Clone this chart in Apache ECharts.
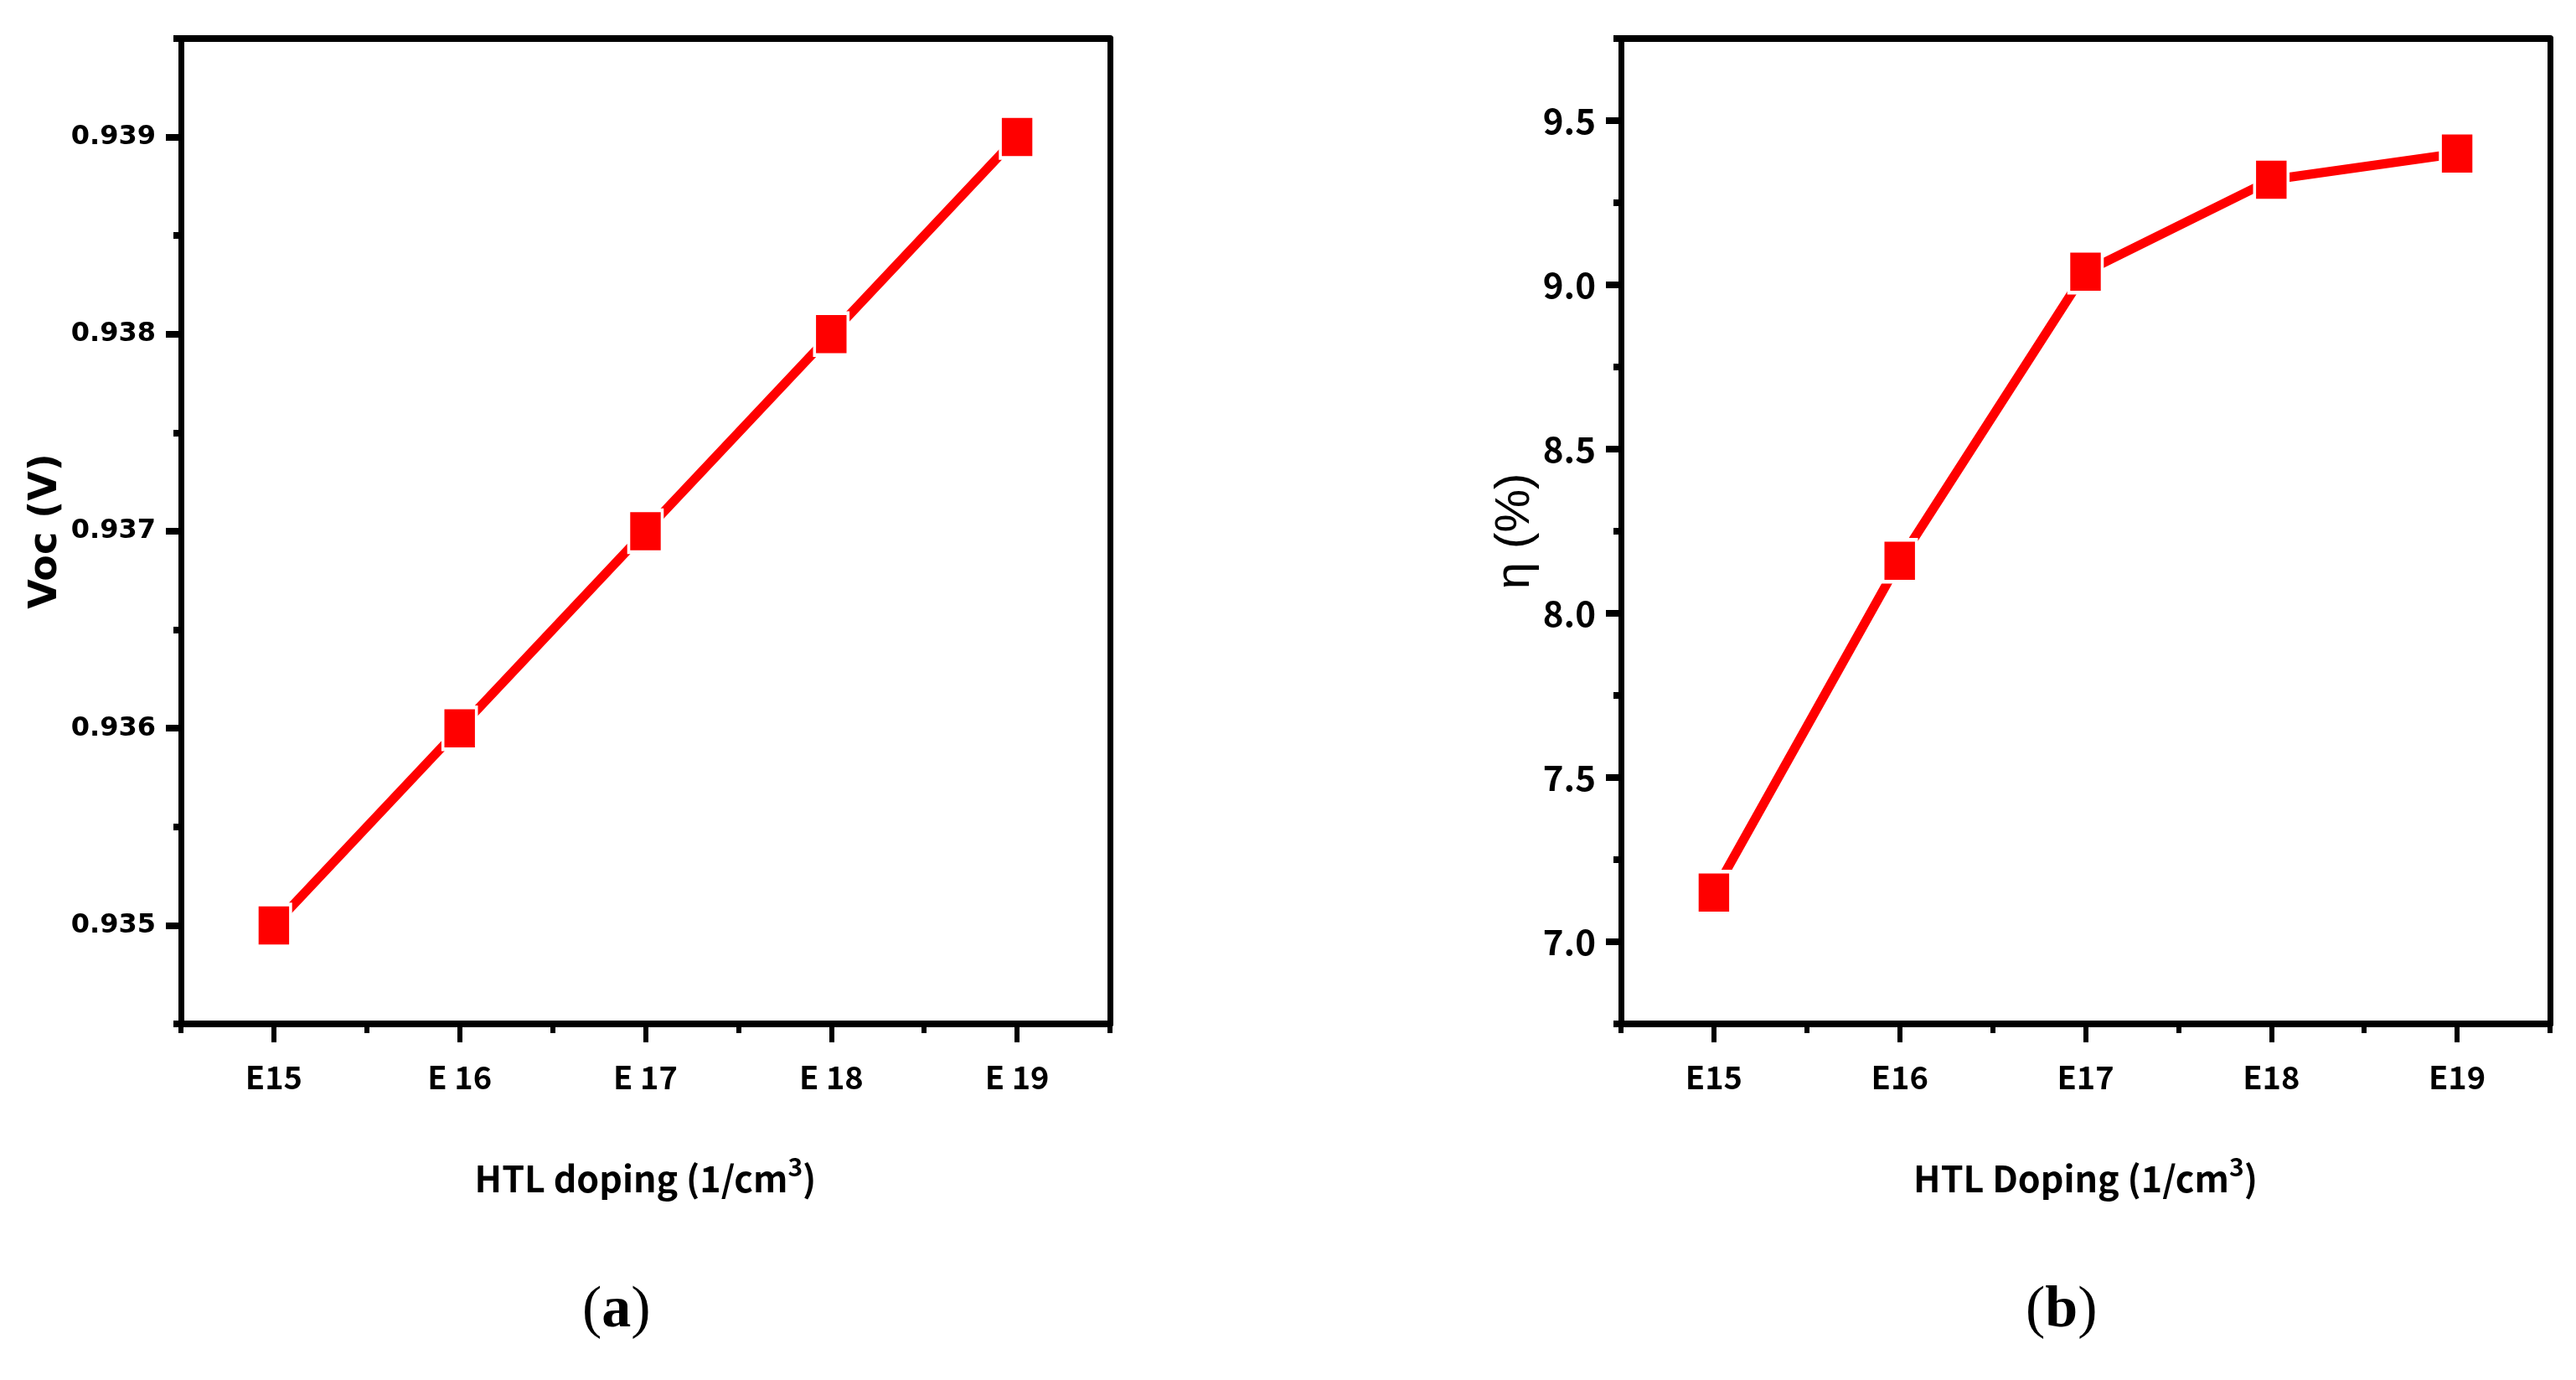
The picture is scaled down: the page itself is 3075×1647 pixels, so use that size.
<!DOCTYPE html>
<html>
<head>
<meta charset="utf-8">
<script src="https://cdn.jsdelivr.net/npm/echarts@6/dist/echarts.min.js"></script>
<style>
  html, body { margin: 0; padding: 0; background: #fff; }
  #chart { width: 3075px; height: 1647px; }
</style>
</head>
<body>
<div id="chart"></div>
<script>
// panel (a): Voc vs HTL doping
const dopingA = ['E15', 'E 16', 'E 17', 'E 18', 'E 19']
const vocValues = [0.935, 0.936, 0.937, 0.938, 0.939]
const vocTicks = [0.935, 0.936, 0.937, 0.938, 0.939]
const vocMinorTicks = [0.9345, 0.9355, 0.9365, 0.9375, 0.9385, 0.9395]

// panel (b): efficiency vs HTL doping
const dopingB = ['E15', 'E16', 'E17', 'E18', 'E19']
const etaValues = [7.15, 8.16, 9.04, 9.32, 9.40]
const etaTicks = [7.0, 7.5, 8.0, 8.5, 9.0, 9.5]
const etaMinorTicks = [6.75, 7.25, 7.75, 8.25, 8.75, 9.25, 9.75]

// narrow-ish bold face for the Calibri-looking texts
const NARROW = "'Noto Sans CJK SC', 'Liberation Sans', sans-serif"
const RED = '#ff0000'

function xAxes(gridIndex, cats, name) {
  return [
    {
      gridIndex,
      type: 'category',
      data: cats,
      position: 'bottom',
      boundaryGap: true,
      name,
      nameLocation: 'middle',
      nameGap: 156,
      nameTextStyle: {
        color: '#000',
        fontFamily: NARROW,
        fontWeight: 'bold',
        fontSize: 43,
        rich: {
          m: { fontFamily: NARROW, fontWeight: 'bold', fontSize: 43, color: '#000', verticalAlign: 'bottom' },
          sup: {
            fontFamily: NARROW, fontWeight: 'bold', fontSize: 30, color: '#000',
            verticalAlign: 'bottom', padding: [0, 0, 20, 0],
          },
        },
      },
      axisLine: { show: true, onZero: false, lineStyle: { color: '#000', width: 8 } },
      axisTick: { show: true, alignWithLabel: true, length: 22, lineStyle: { color: '#000', width: 6 } },
      axisLabel: {
        color: '#000',
        fontFamily: NARROW,
        fontWeight: 'bold',
        fontSize: 38,
        margin: 45,
      },
      splitLine: { show: false },
    },
    {
      gridIndex,
      type: 'category',
      data: cats,
      position: 'bottom',
      boundaryGap: true,
      axisLine: { show: false, onZero: false },
      axisTick: { show: true, length: 11, lineStyle: { color: '#000', width: 6 } },
      axisLabel: { show: false },
      splitLine: { show: false },
    },
    {
      gridIndex,
      type: 'category',
      data: cats,
      position: 'top',
      axisLine: { show: true, onZero: false, lineStyle: { color: '#000', width: 8 } },
      axisTick: { show: false },
      axisLabel: { show: false },
      splitLine: { show: false },
    },
  ]
}

function yAxes(gridIndex, min, max, ticks, minorTicks, digits, labelFont, labelSize, name, nameStyle, nameGap) {
  return [
    {
      gridIndex,
      type: 'value',
      position: 'left',
      min,
      max,
      name,
      nameLocation: 'middle',
      nameGap,
      nameTextStyle: nameStyle,
      axisLine: { show: true, lineStyle: { color: '#000', width: 7 } },
      axisTick: { show: true, customValues: ticks, length: 18, lineStyle: { color: '#000', width: 8 } },
      axisLabel: {
        customValues: ticks,
        formatter: (v) => v.toFixed(digits),
        color: '#000',
        fontFamily: labelFont,
        fontWeight: 'bold',
        fontSize: labelSize,
        margin: 30,
      },
      splitLine: { show: false },
    },
    {
      gridIndex,
      type: 'value',
      position: 'left',
      min,
      max,
      axisLine: { show: false },
      axisTick: { show: true, customValues: minorTicks, length: 9, lineStyle: { color: '#000', width: 8 } },
      axisLabel: { show: false },
      splitLine: { show: false },
    },
    {
      gridIndex,
      type: 'value',
      position: 'right',
      min,
      max,
      axisLine: { show: true, lineStyle: { color: '#000', width: 7 } },
      axisTick: { show: false },
      axisLabel: { show: false },
      splitLine: { show: false },
    },
  ]
}

function lineSeries(axisIndex, values) {
  return {
    type: 'line',
    xAxisIndex: axisIndex,
    yAxisIndex: axisIndex,
    data: values,
    symbol: 'rect',
    symbolSize: [40, 50],
    lineStyle: { color: RED, width: 11, cap: 'round' },
    itemStyle: { color: RED, borderColor: '#fff', borderWidth: 4 },
    z: 3,
  }
}

const chart = echarts.init(document.getElementById('chart'))

chart.setOption({
  backgroundColor: '#fff',
  animation: false,
  grid: [
    { left: 216, top: 46, width: 1109, height: 1176, outerBoundsMode: 'none' },
    { left: 1935, top: 46, width: 1109, height: 1176, outerBoundsMode: 'none' },
  ],
  xAxis: [
    ...xAxes(0, dopingA, '{m|HTL doping (1/cm}{sup|3}{m|)}'),
    ...xAxes(1, dopingB, '{m|HTL Doping (1/cm}{sup|3}{m|)}'),
  ],
  yAxis: [
    ...yAxes(0, 0.9345, 0.9395, vocTicks, vocMinorTicks, 3, "'DejaVu Sans', sans-serif", 32,
      'Voc (V)',
      { color: '#000', fontFamily: "'DejaVu Sans', sans-serif", fontWeight: 'bold', fontSize: 46 }, 138),
    ...yAxes(1, 6.75, 9.75, etaTicks, etaMinorTicks, 1, NARROW, 42,
      'η (%)',
      { color: '#000', fontFamily: "'Liberation Sans', Arial, sans-serif", fontSize: 58 }, 94),
  ],
  series: [
    lineSeries(0, vocValues),
    lineSeries(3, etaValues),
  ],
  graphic: [
    {
      type: 'text',
      left: 695,
      top: 1530,
      style: {
        text: '({b|a})',
        fontFamily: "'Liberation Serif', 'DejaVu Serif', serif",
        fontSize: 70,
        fill: '#000',
        rich: { b: { fontWeight: 'bold', fontSize: 70, fontFamily: "'Liberation Serif', serif", fill: '#000' } },
      },
    },
    {
      type: 'text',
      left: 2418,
      top: 1530,
      style: {
        text: '({b|b})',
        fontFamily: "'Liberation Serif', 'DejaVu Serif', serif",
        fontSize: 70,
        fill: '#000',
        rich: { b: { fontWeight: 'bold', fontSize: 70, fontFamily: "'Liberation Serif', serif", fill: '#000' } },
      },
    },
  ],
})

window.addEventListener('resize', () => chart.resize())
</script>
</body>
</html>
